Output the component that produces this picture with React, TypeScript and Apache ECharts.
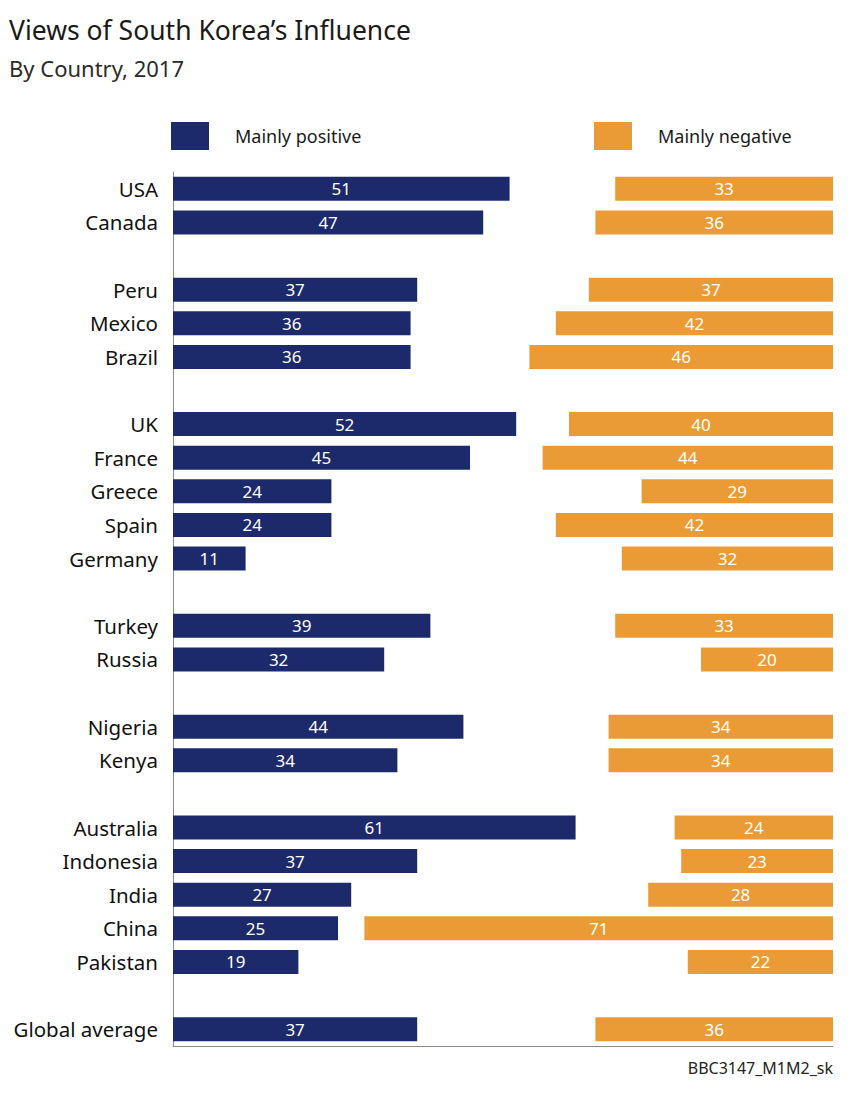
import React, { useEffect, useRef } from "react";
import * as echarts from "echarts";

const countries = [
  "USA", "Canada", "",
  "Peru", "Mexico", "Brazil", " ",
  "UK", "France", "Greece", "Spain", "Germany", "  ",
  "Turkey", "Russia", "   ",
  "Nigeria", "Kenya", "    ",
  "Australia", "Indonesia", "India", "China", "Pakistan", "     ",
  "Global average",
];
const positive = [
  51, 47, null,
  37, 36, 36, null,
  52, 45, 24, 24, 11, null,
  39, 32, null,
  44, 34, null,
  61, 37, 27, 25, 19, null,
  37,
];
const negative = [
  33, 36, null,
  37, 42, 46, null,
  40, 44, 29, 42, 32, null,
  33, 20, null,
  34, 34, null,
  24, 23, 28, 71, 22, null,
  36,
];
const scaleMax = 100;

const NAVY = "#1c2a6b";
const ORANGE = "#eb9b35";
const FONT = "'Noto Sans', 'Open Sans', sans-serif";

export default function App() {
  const ref = useRef<HTMLDivElement>(null);
  useEffect(() => {
    document.body.style.margin = "0";
    const chart = echarts.init(ref.current!, null, { renderer: "svg" });
    const offset = negative.map((v) => (v == null ? null : scaleMax - v));
    chart.setOption({
      animation: false,
      backgroundColor: "#ffffff",
      textStyle: { fontFamily: FONT },
      title: [
        {
          text: "Views of South Korea\u2019s Influence",
          left: 9,
          top: 16,
          padding: 0,
          textStyle: { fontSize: 26.5, fontWeight: "normal", color: "#1a1a1a", fontFamily: FONT },
        },
        {
          text: "By Country, 2017",
          left: 9,
          top: 57,
          padding: 0,
          textStyle: { fontSize: 22, fontWeight: "normal", color: "#2a2a2a", fontFamily: FONT },
        },
      ],
      legend: [
        {
          data: ["Mainly positive"],
          left: 171,
          top: 122,
          padding: 0,
          icon: "rect",
          itemWidth: 38,
          itemHeight: 28,
          textStyle: { fontSize: 18, color: "#1a1a1a", padding: [0, 0, 6, 21], fontFamily: FONT },
          selectedMode: false,
        },
        {
          data: ["Mainly negative"],
          left: 594,
          top: 122,
          padding: 0,
          icon: "rect",
          itemWidth: 38,
          itemHeight: 28,
          textStyle: { fontSize: 18, color: "#1a1a1a", padding: [0, 0, 6, 21], fontFamily: FONT },
          selectedMode: false,
        },
      ],
      grid: { left: 173, right: 17, top: 172, bottom: 48, containLabel: false },
      xAxis: {
        type: "value",
        min: 0,
        max: scaleMax,
        axisLine: { show: true, onZero: false, lineStyle: { color: "#8a8a8a", width: 1 } },
        axisTick: { show: false },
        axisLabel: { show: false },
        splitLine: { show: false },
      },
      yAxis: {
        type: "category",
        inverse: true,
        data: countries,
        axisLine: { show: true, lineStyle: { color: "#8a8a8a", width: 1 } },
        axisTick: { show: false },
        axisLabel: { fontSize: 20.5, color: "#111111", margin: 15, fontFamily: FONT },
      },
      series: [
        {
          name: "Mainly positive",
          type: "bar",
          data: positive,
          barWidth: 24,
          barGap: "-100%",
          itemStyle: { color: NAVY },
          label: { show: true, position: "inside", color: "#ffffff", fontSize: 17, fontFamily: FONT },
        },
        {
          name: "offset",
          type: "bar",
          stack: "neg",
          data: offset,
          barWidth: 24,
          itemStyle: { color: "transparent" },
          label: { show: false },
          silent: true,
        },
        {
          name: "Mainly negative",
          type: "bar",
          stack: "neg",
          data: negative,
          barWidth: 24,
          itemStyle: { color: ORANGE },
          label: { show: true, position: "inside", color: "#ffffff", fontSize: 17, fontFamily: FONT },
        },
      ],
      graphic: [
        {
          type: "text",
          right: 17,
          top: 1060,
          style: { text: "BBC3147_M1M2_sk", fontSize: 16, fill: "#222222", fontFamily: FONT },
        },
      ],
    });
    return () => chart.dispose();
  }, []);
  return <div ref={ref} style={{ width: 850, height: 1094 }} />;
}
